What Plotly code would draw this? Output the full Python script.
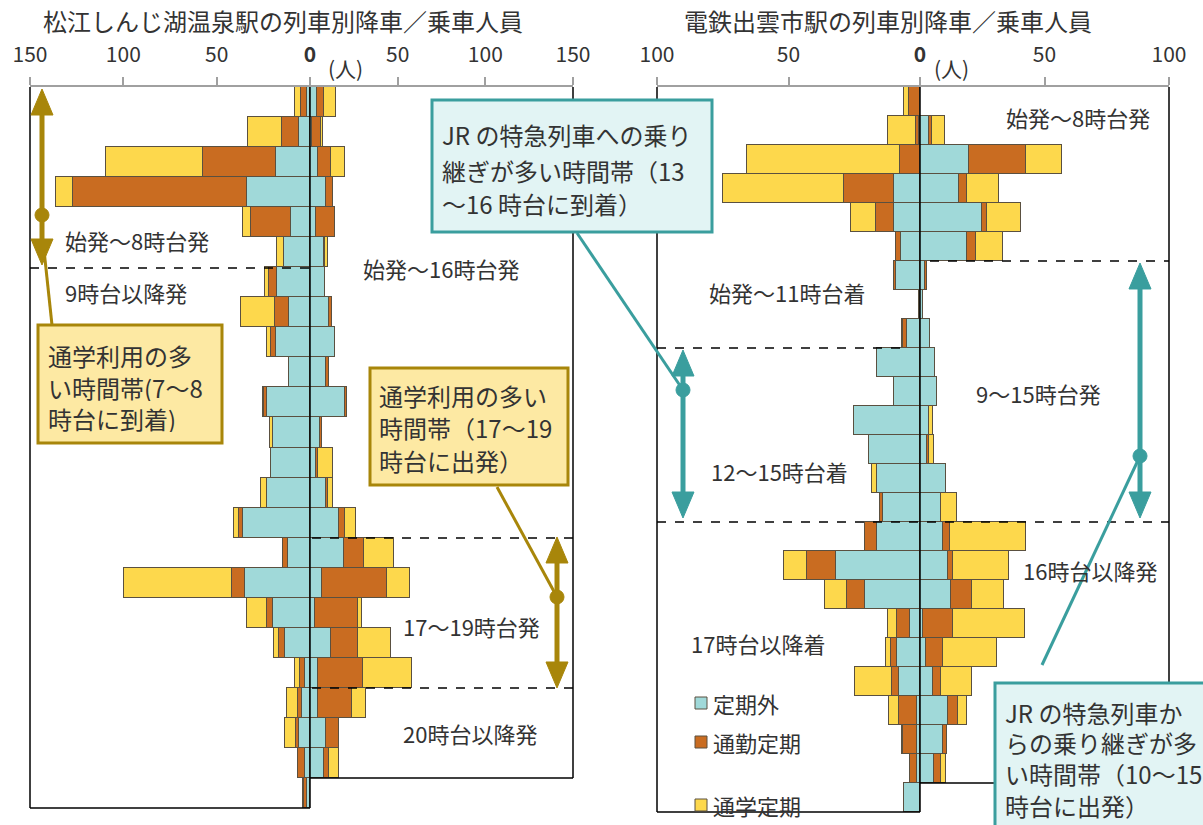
import plotly.graph_objects as go

W, H = 1203, 825

categories = ["定期外", "通勤定期", "通学定期"]
colors = ["#a0d9d9", "#c96c21", "#fdd84c"]

# 松江しんじ湖温泉駅 降車（上から列車順）
matsue_off_gai = [1.5, 6, 18, 34, 10, 14, 17.5, 11, 18, 11.5, 23, 20, 21, 23, 36, 12, 35, 20, 13.5, 2.7, 4.4, 6, 2.7, 1.5]
matsue_off_tsukin = [3.5, 9, 39.5, 93, 21.5, 0, 4.5, 7.5, 3, 0, 1.4, 0, 0, 0, 1.8, 2.7, 6.6, 3.2, 3, 2.7, 2, 1.4, 3.6, 1.5]
matsue_off_tsugaku = [3, 18, 52, 9, 4.5, 3.7, 2, 18.7, 1.8, 0, 0.9, 1.2, 0, 3.2, 2.7, 0, 58, 10.7, 2.7, 2.7, 6, 6.2, 0, 0.5]
# 松江しんじ湖温泉駅 乗車
matsue_on_gai = [4, 1, 4.5, 9, 3.2, 8, 8.5, 10.8, 14.5, 9.4, 20, 5.5, 3.2, 9.4, 16.4, 19.2, 7, 2.6, 12, 4.7, 4.7, 9.4, 7.9]
matsue_on_tsukin = [4, 5, 7.7, 4.3, 11, 0.5, 0, 1.5, 0, 1.3, 1.3, 1.5, 1.5, 0.9, 3.8, 11.7, 37, 24.7, 15.3, 25.5, 19.2, 7.4, 3.2]
matsue_on_tsugaku = [7, 1.5, 8, 0, 0, 2, 0, 0, 0, 0, 0, 0, 8.5, 2.8, 6, 17.2, 13.2, 2.6, 18.7, 27.7, 8.1, 0, 5.3]

# 電鉄出雲市駅 降車
izumo_off_gai = [0, 0.5, 0, 9.8, 9.8, 7.1, 9, 0.3, 5, 16.4, 9.8, 25.2, 19.3, 16.5, 14, 16.4, 32, 21, 3.8, 8.9, 7.9, 1.1, 1, 1.1, 6]
izumo_off_tsukin = [4, 1, 7.6, 19, 6.9, 2, 1, 0, 1.3, 0, 0, 0, 0, 0, 1.3, 4.7, 10.8, 6.7, 5, 2.2, 2.9, 6.7, 5.5, 2.8, 0]
izumo_off_tsugaku = [2.2, 10.8, 58, 46, 9.4, 0, 0, 0, 0.7, 0, 0, 0, 0, 1.7, 0, 0, 8.9, 8.3, 3.2, 1.9, 14, 4, 0.5, 0, 0]
# 電鉄出雲市駅 乗車
izumo_on_gai = [0, 3.7, 19.8, 15.6, 24.9, 18.9, 2, 1.3, 4, 6, 7, 3.5, 3, 10.6, 8.3, 9.2, 11.1, 12.3, 1.4, 2.4, 5.4, 11.3, 9.4, 5.7]
izumo_on_tsukin = [0, 1.3, 22.7, 3.3, 2, 3.6, 0.8, 0, 0, 0, 0, 0.3, 0.5, 0, 0, 2.9, 2.1, 8.6, 11.9, 7, 2.9, 4, 1.3, 2.6]
izumo_on_tsugaku = [0, 4.9, 14.7, 12.8, 13.7, 11, 0, 0, 0, 0, 0, 1.3, 2, 0, 6.5, 30.5, 22.5, 13, 28.7, 21.7, 12.6, 3.7, 0, 2]

FONT = "Noto Sans CJK JP"
GOLD = "#a8860a"
GOLD_FILL = "#fde9a3"
TEAL = "#3a9e9e"
TEAL_FILL = "#e2f4f4"
TXT = "#333333"


def px(x):
    return x / W


def py(y):
    return 1 - y / H


fig = go.Figure()


def add_bars(xa, ya, series):
    for name, color, vals in zip(categories, colors, series):
        fig.add_trace(go.Bar(
            y=list(range(len(vals))), x=[v if v else None for v in vals],
            orientation="h", width=1, name=name, showlegend=False,
            marker=dict(color=color, line=dict(color="#5a5040", width=1)),
            xaxis=xa, yaxis=ya, hoverinfo="skip"))


add_bars("x", "y", [matsue_off_gai, matsue_off_tsukin, matsue_off_tsugaku])
add_bars("x2", "y2", [matsue_on_gai, matsue_on_tsukin, matsue_on_tsugaku])
add_bars("x3", "y3", [izumo_off_gai, izumo_off_tsukin, izumo_off_tsugaku])
add_bars("x4", "y4", [izumo_on_gai, izumo_on_tsukin, izumo_on_tsugaku])

xcommon = dict(side="top", showline=True, linecolor="#a0a0a0", linewidth=1.5,
               ticks="outside", ticklen=8, tickcolor="#a0a0a0", tickwidth=1.5,
               showgrid=False, zeroline=False, ticklabelstandoff=7, automargin=False,
               tickfont=dict(size=21, color=TXT, family=FONT), fixedrange=True)
ycommon = dict(visible=False, showgrid=False, zeroline=False, fixedrange=True, automargin=False)

fig.update_layout(
    xaxis=dict(xcommon, domain=[px(30), px(310)], range=[150, 0], anchor="y",
               tickvals=[150, 100, 50, 0], ticktext=["150", "100", "50", "<b>0</b>"]),
    xaxis2=dict(xcommon, domain=[px(310), px(573)], range=[0, 150], anchor="y2",
                tickvals=[50, 100, 150], ticktext=["50", "100", "150"]),
    xaxis3=dict(xcommon, domain=[px(657), px(920)], range=[100, 0], anchor="y3",
                tickvals=[100, 50, 0], ticktext=["100", "50", "<b>0</b>"]),
    xaxis4=dict(xcommon, domain=[px(920), px(1169)], range=[0, 100], anchor="y4",
                tickvals=[50, 100], ticktext=["50", "100"]),
    yaxis=dict(ycommon, domain=[py(808), py(87)], range=[len(matsue_off_gai) - 0.5, -0.5], anchor="x"),
    yaxis2=dict(ycommon, domain=[py(778), py(87)], range=[len(matsue_on_gai) - 0.5, -0.5], anchor="x2"),
    yaxis3=dict(ycommon, domain=[py(812), py(87)], range=[len(izumo_off_gai) - 0.5, -0.5], anchor="x3"),
    yaxis4=dict(ycommon, domain=[py(783), py(87)], range=[len(izumo_on_gai) - 0.5, -0.5], anchor="x4"),
    barmode="stack", bargap=0,
    width=W, height=H, margin=dict(l=0, r=0, t=0, b=0, pad=0), autosize=False,
    paper_bgcolor="white", plot_bgcolor="rgba(0,0,0,0)",
    font=dict(family=FONT, color=TXT),
)

shapes = []


def line(x0, y0, x1, y1, color="black", width=1.5, dash="solid"):
    shapes.append(dict(type="line", xref="paper", yref="paper",
                       x0=px(x0), y0=py(y0), x1=px(x1), y1=py(y1),
                       line=dict(color=color, width=width, dash=dash), layer="above"))


def rect(x0, y0, x1, y1, color, fill, width=3):
    shapes.append(dict(type="rect", xref="paper", yref="paper",
                       x0=px(x0), y0=py(y0), x1=px(x1), y1=py(y1),
                       line=dict(color=color, width=width), fillcolor=fill, layer="above"))


def dbl_arrow(x, top, bottom, dot, color):
    line(x, top + 22, x, bottom - 22, color, 5)
    for tip, base in [(top, top + 26), (bottom, bottom - 26)]:
        shapes.append(dict(type="path", xref="paper", yref="paper",
                           path="M %f %f L %f %f L %f %f Z" % (px(x), py(tip), px(x - 11), py(base), px(x + 11), py(base)),
                           fillcolor=color, line=dict(color=color, width=1), layer="above"))
    shapes.append(dict(type="circle", xref="paper", yref="paper",
                       x0=px(x - 7), x1=px(x + 7), y0=py(dot + 7), y1=py(dot - 7),
                       fillcolor=color, line=dict(color=color, width=1), layer="above"))


# 枠線
line(30, 87, 30, 808)
line(30, 808, 310, 808)
line(310, 87, 310, 808)
line(310, 778, 573, 778)
line(573, 87, 573, 778)
line(657, 87, 657, 812)
line(657, 812, 920, 812)
line(920, 87, 920, 812)
line(920, 783, 1169, 783)
line(1169, 87, 1169, 783)

# 時間帯区切り（破線）
line(30, 268, 310, 268, dash="dash")
line(312, 538, 580, 538, dash="dash")
line(312, 688, 580, 688, dash="dash")
line(930, 261, 1169, 261, dash="dash")
line(657, 348, 906, 348, dash="dash")
line(657, 522, 1169, 522, dash="dash")

# 吹き出し
line(44, 250, 52, 325, GOLD, 3)
rect(38, 325, 222, 443, GOLD, GOLD_FILL)
line(557, 597, 497, 487, GOLD, 3)
rect(370, 368, 568, 485, GOLD, GOLD_FILL)
line(683, 390, 577, 233, TEAL, 3)
rect(432, 100, 712, 232, TEAL, TEAL_FILL)
line(1140, 456, 1042, 665, TEAL, 3)
rect(995, 683, 1215, 835, TEAL, TEAL_FILL)

dbl_arrow(42, 89, 265, 215, GOLD)
dbl_arrow(557, 537, 688, 597, GOLD)
dbl_arrow(683, 350, 518, 390, TEAL)
dbl_arrow(1140, 263, 518, 456, TEAL)

# 凡例
legend_y = [703, 742, 805]
for color, yy in zip(colors, legend_y):
    shapes.append(dict(type="rect", xref="paper", yref="paper",
                       x0=px(695), x1=px(707), y0=py(yy + 6), y1=py(yy - 6),
                       fillcolor=color, line=dict(color="#5a5040", width=1), layer="above"))

fig.update_layout(shapes=shapes)

annotations = []


def text(x, y, s, size=22, anchor="left", height=None):
    ann = dict(x=px(x), y=py(y), xref="paper", yref="paper", text=s,
               showarrow=False, xanchor=anchor, yanchor="middle", borderpad=0,
               font=dict(size=size, color=TXT, family=FONT))
    if height:
        ann["height"] = height
    annotations.append(ann)


text(283, 20, "松江しんじ湖温泉駅の列車別降車／乗車人員", 24, "center")
text(888, 20, "電鉄出雲市駅の列車別降車／乗車人員", 24, "center")
text(327, 68, "(人)", 21)
text(933, 68, "(人)", 21)

text(64, 240, "始発～8時台発")
text(64, 292, "9時台以降発")
text(362, 268, "始発～16時台発")
text(402, 626, "17～19時台発")
text(402, 733, "20時台以降発")
text(1005, 117, "始発～8時台発")
text(708, 292, "始発～11時台着")
text(975, 393, "9～15時台発")
text(710, 471, "12～15時台着")
text(1022, 570, "16時台以降発")
text(690, 643, "17時台以降着")

BOX = 24
for s, y in zip(["通学利用の多", "い時間帯(7～8", "時台に到着)"], [355, 387, 418]):
    text(47, y, s, BOX, height=27)
for s, y in zip(["通学利用の多い", "時間帯（17～19", "時台に出発）"], [395, 427, 460]):
    text(378, y, s, BOX, height=27)
for s, y in zip(["JR の特急列車への乗り", "継ぎが多い時間帯（13", "～16 時台に到着）"], [135, 170, 203]):
    text(441, y, s, BOX, height=27)
for s, y in zip(["JR の特急列車か", "らの乗り継ぎが多", "い時間帯（10～15", "時台に出発）"], [712, 742, 773, 805]):
    text(1004, y, s, BOX, height=27)

for name, yy in zip(categories, legend_y):
    text(712, yy, name)

fig.update_layout(annotations=annotations)

fig.write_html("out.html", config={"displayModeBar": False},
               post_script="document.body.style.margin='0';")
